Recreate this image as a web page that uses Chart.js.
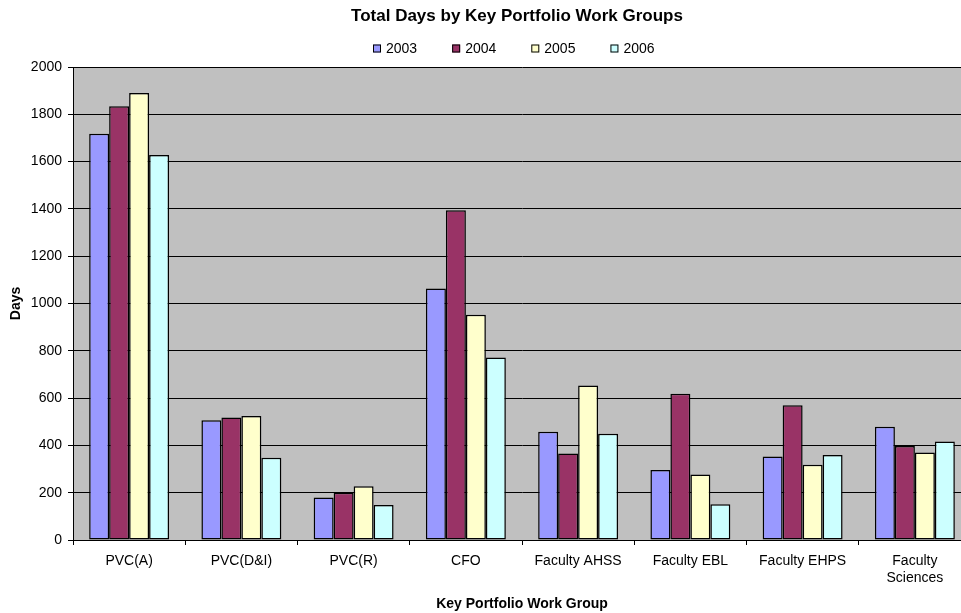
<!DOCTYPE html>
<html lang="en">
<head>
<meta charset="UTF-8">
<title>Total Days by Key Portfolio Work Groups</title>
<script src="https://cdn.jsdelivr.net/npm/chart.js@4.4.0/dist/chart.umd.min.js"></script>
<style>
  html, body { margin: 0; padding: 0; background: #fff; overflow: hidden; }
  #wrap { width: 961px; height: 613px; overflow: hidden; }
  canvas { display: block; }
</style>
</head>
<body>
<div id="wrap"><canvas id="daysChart" width="1034" height="613"></canvas></div>
<script>
// work groups and yearly totals (days)
const groups = ['PVC(A)', 'PVC(D&I)', 'PVC(R)', 'CFO', 'Faculty AHSS', 'Faculty EBL', 'Faculty EHPS', ['Faculty', 'Sciences']];
const years = ['2003', '2004', '2005', '2006'];
const days2003 = [1718, 506, 180, 1063, 458, 296, 353, 479];
const days2004 = [1834, 518, 200, 1394, 366, 618, 570, 397];
const days2005 = [1890, 524, 227, 952, 653, 277, 318, 370];
const days2006 = [1628, 348, 148, 772, 449, 151, 359, 417];
const yearColors = ['#9999FF', '#993366', '#FFFFCC', '#CCFFFF'];
const chartTitle = 'Total Days by Key Portfolio Work Groups';

const FONT = "'Liberation Sans', Arial, sans-serif";

// grey plot background behind the bars
const plotBackground = {
  id: 'plotBackground',
  beforeDraw(chart) {
    const { ctx, chartArea: a } = chart;
    ctx.save();
    ctx.fillStyle = '#C0C0C0';
    ctx.fillRect(a.left, a.top, a.right - a.left, a.bottom - a.top);
    ctx.restore();
  }
};

// title and small square legend row above the plot
const header = {
  id: 'header',
  afterDraw(chart) {
    const { ctx } = chart;
    ctx.save();
    ctx.fillStyle = '#000';
    ctx.textAlign = 'center';
    ctx.textBaseline = 'middle';
    ctx.font = 'bold 17px ' + FONT;
    ctx.fillText(chartTitle, 517, 16);

    const sets = chart.data.datasets;
    ctx.textAlign = 'left';
    ctx.font = '14px ' + FONT;
    const box = 8, gap = 5, space = 35, y = 48.5;
    const widths = sets.map(s => box + gap + ctx.measureText(s.label).width);
    const total = widths.reduce((a, b) => a + b, 0) + space * (sets.length - 1);
    let x = Math.round(514 - total / 2);
    sets.forEach((s, i) => {
      ctx.fillStyle = s.backgroundColor;
      ctx.fillRect(x, y - box / 2, box, box);
      ctx.strokeStyle = '#000';
      ctx.lineWidth = 1;
      ctx.strokeRect(x + 0.5, y - box / 2 + 0.5, box - 1, box - 1);
      ctx.fillStyle = '#000';
      ctx.fillText(s.label, x + box + gap, y + 0.5);
      x += widths[i] + space;
    });
    ctx.restore();
  }
};

const series = [days2003, days2004, days2005, days2006];

new Chart(document.getElementById('daysChart'), {
  type: 'bar',
  data: {
    labels: groups,
    datasets: years.map((yr, i) => ({
      label: yr,
      data: series[i],
      backgroundColor: yearColors[i],
      borderColor: '#000',
      borderWidth: 1.5,
      borderSkipped: false,
      categoryPercentage: 0.712,
      barPercentage: 1.0,
    }))
  },
  options: {
    responsive: false,
    animation: false,
    layout: { padding: { left: 0, right: 63, top: 67, bottom: 0 } },
    plugins: {
      legend: { display: false },
      tooltip: { enabled: false },
      title: { display: false }
    },
    scales: {
      x: {
        grid: { offset: true, drawOnChartArea: false, drawTicks: true, tickLength: 5, color: '#000' },
        border: { color: '#000', width: 1 },
        ticks: { color: '#000', font: { family: FONT, size: 14 }, padding: 8, maxRotation: 0, autoSkip: false },
        title: {
          display: true,
          text: 'Key Portfolio Work Group',
          color: '#000',
          font: { family: FONT, size: 14, weight: 'bold' },
          padding: { top: 0, bottom: 0 }
        },
        afterFit(scale) { scale.height = 73; }
      },
      y: {
        min: 0,
        max: 2000,
        ticks: {
          stepSize: 200,
          color: '#000',
          font: { family: FONT, size: 14 },
          padding: 6,
          callback: v => String(v)
        },
        grid: { color: '#000', tickLength: 5 },
        border: { color: '#000', width: 1 },
        title: {
          display: true,
          text: 'Days',
          color: '#000',
          font: { family: FONT, size: 14, weight: 'bold' },
          padding: { top: 8, bottom: 8 }
        },
        afterFit(scale) { scale.width = 73; }
      }
    }
  },
  plugins: [plotBackground, header]
});
</script>
</body>
</html>
